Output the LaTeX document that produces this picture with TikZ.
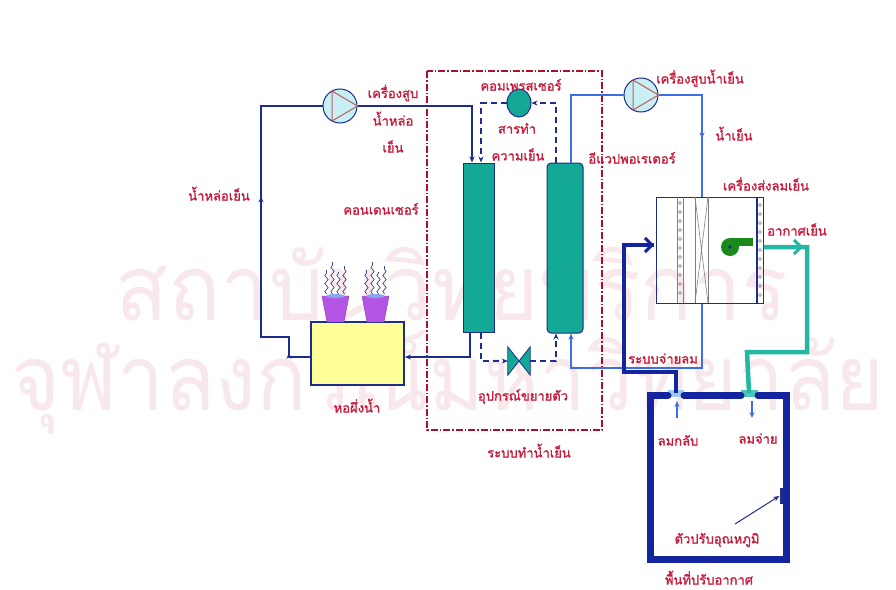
\documentclass[tikz,border=0pt]{standalone}
\usepackage{fontspec}
\newfontfamily\thai[Script=Thai,AutoFakeBold=1.6]{Loma}
\newfontfamily\thaiwm[Script=Thai,AutoFakeBold=3]{Loma}
\usetikzlibrary{arrows.meta,shapes.geometric,decorations.markings,decorations.pathmorphing}
\definecolor{navy}{HTML}{1E2C8E}
\definecolor{deepnavy}{HTML}{14249E}
\definecolor{chill}{HTML}{3C6EE6}
\definecolor{lbl}{HTML}{C81E3E}
\definecolor{sysred}{HTML}{A8102C}
\definecolor{teal}{HTML}{14A896}
\definecolor{airteal}{HTML}{22B8A2}
\definecolor{pumpfill}{HTML}{C8F0F4}
\definecolor{pumptri}{HTML}{C05A5A}
\definecolor{potfill}{HTML}{B555E6}
\definecolor{towerfill}{HTML}{FFFF99}
\definecolor{fangreen}{HTML}{1A8A1A}
\definecolor{wmark}{HTML}{F9E8EB}
\tikzset{
  tip/.style={-{Stealth[length=6pt,width=5pt]}},
  arrowat/.style={postaction={decorate,decoration={markings,
      mark=at position #1 with {\arrow{Stealth[length=6pt,width=5pt]}}}}},
  wline/.style={draw=navy,line width=1.8pt},
  cwline/.style={draw=chill,line width=1.6pt},
  refline/.style={draw=navy,line width=1.8pt,dash pattern=on 6pt off 4pt},
  airsup/.style={draw=airteal,line width=4.5pt},
  airret/.style={draw=deepnavy,line width=3.5pt},
  lab/.style={font=\thai\bfseries\fontsize{13}{15}\selectfont,text=lbl,anchor=base,inner sep=0pt},
  wm/.style={font=\thaiwm\fontsize{96}{100}\selectfont,text=wmark,anchor=base,inner sep=0pt},
  pumpc/.style={circle,draw=navy,line width=1pt,fill=pumpfill,minimum size=34pt,inner sep=0pt},
  vessel/.style={draw=navy,line width=1pt,fill=teal,inner sep=0pt},
  room/.style={draw=deepnavy,line width=7pt},
}
\begin{document}
\begin{tikzpicture}[x=1pt,y=-1pt]
\useasboundingbox (0,0) rectangle (896,589);
\fill[white] (0,0) rectangle (896,589);

% faint library watermark
\node[wm] (wmA) at (452,320) {\scalebox{0.9}[0.95]{สถาบันวิทยบริการ}};
\node[wm] (wmB) at (448,410) {\scalebox{0.87}[0.95]{จุฬาลงกรณ์มหาวิทยาลัย}};

% refrigeration system boundary
\draw[sysred,line width=1.5pt,dash pattern=on 7pt off 2pt on 1.5pt off 2pt] (427,71) rectangle (602,430);

% equipment
\node[vessel,minimum width=31pt,minimum height=169pt] (cond) at (478.5,247.5) {};
\node[vessel,rounded corners=4pt,minimum width=36pt,minimum height=170pt] (evap) at (565,248) {};
\node[ellipse,vessel,minimum width=24pt,minimum height=28pt] (comp) at (519,103) {};
\node[inner sep=0pt,minimum width=22pt,minimum height=28pt] (valve) at (519,361) {};
\filldraw[fill=teal,draw=navy,line width=0.8pt] (valve.north west) -- (valve.center) -- (valve.south west) -- cycle;
\filldraw[fill=teal,draw=navy,line width=0.8pt] (valve.north east) -- (valve.center) -- (valve.south east) -- cycle;

% cooling tower with its two fans and rising vapour
\node[draw=navy,line width=1.8pt,fill=towerfill,minimum width=93pt,minimum height=63pt,inner sep=0pt] (tower) at (357.5,353.5) {};
\foreach \c in {335.5,375.5}{
  \filldraw[fill=potfill,draw=potfill!70!black,line width=0.4pt] (\c-13.5,296) -- (\c+13.5,296) -- (\c+8.5,322) -- (\c-8.5,322) -- cycle;
  \fill[chill!60] (\c,296) ellipse (9pt and 2pt);
  \foreach \d/\h in {-9/24,-3/32,3/22,9/28}{
    \draw[navy!70!gray,line width=0.7pt,decorate,decoration={snake,amplitude=1.6pt,segment length=8pt}] (\c+\d,294) -- (\c+\d,294-\h);
  }
}

% pumps
\node[pumpc] (pumpA) at (340,106) {};
\node[pumpc] (pumpB) at (641,95) {};
\foreach \p in {pumpA,pumpB}{
  \draw[pumptri,line width=1pt] ([shift={(-8,-15)}]\p.center) -- ([shift={(-8,15)}]\p.center) -- (\p.east) -- cycle;
}

% air handling unit
\node[draw=navy,line width=1pt,minimum width=107pt,minimum height=106pt,inner sep=0pt] (ahu) at (709.5,250) {};
\draw[gray,line width=0.6pt] (677,197) -- (677,303) (683,197) -- (683,303);
\draw[gray,line width=0.6pt] (695,197) -- (695,303) (708,197) -- (708,303);
\draw[gray,line width=0.6pt] (695,197) -- (708,303) (708,197) -- (695,303);
\draw[navy,line width=1.6pt] (757,197) -- (757,303);
\foreach \y in {203,212,...,298}{
  \draw[gray,line width=0.5pt] (680,\y) circle (1.5pt);
  \draw[gray,line width=0.5pt] (760,\y+2) circle (1.5pt);
}
\fill[fangreen] (730,247) circle (9pt);
\fill[fangreen] (730,238) rectangle (753,246);
\fill[navy] (730,247) circle (1.8pt);

% conditioned space
\coordinate (retgr) at (676,393);
\coordinate (supgr) at (749,393);
\fill[pumpfill!70!chill] (668,390) rectangle (684,397);
\fill[airteal!80] (741,390) rectangle (758,397);
\draw[room,line cap=round] (668,395.5) -- (650.5,395.5) -- (650.5,559.5) -- (786.5,559.5) -- (786.5,395.5) -- (758,395.5);
\draw[room,line cap=round] (684,395.5) -- (741,395.5);
\node[fill=navy,minimum width=3pt,minimum height=16pt,inner sep=0pt] (tstat) at (781,496) {};
\draw[navy,line width=1pt,tip] (735,524) -- (tstat.west);
\draw[chill,line width=1.2pt,tip] (677,418) -- (677,401);
\draw[chill,line width=1.2pt,tip] (752,401) -- (752,418);

% condenser water loop
\draw[wline,tip] (pumpA.east) -| ([xshift=-6.5pt]cond.north);
\draw[wline,tip] ([xshift=-8.5pt]cond.south) |- ([yshift=-3.5pt]tower.east);
\draw[wline,arrowat=0.07,arrowat=0.58] ([yshift=-3.5pt]tower.west) -- (289,357) -- (289,337) -- (261,337) -- (261,106) -- (pumpA.west);

% refrigerant circuit
\draw[refline,tip] (comp.west) -| ([xshift=2.5pt]cond.north);
\draw[refline,tip] ([xshift=-9pt]evap.north) |- (comp.east);
\draw[refline,tip] ([xshift=2.5pt]cond.south) |- (valve.west);
\draw[refline,tip] (valve.east) -| ([xshift=-9pt]evap.south);

% chilled water loop
\draw[cwline] ([xshift=6pt]evap.north) |- (pumpB.west);
\draw[cwline,arrowat=0.6] (pumpB.east) -| ([xshift=-7.5pt]ahu.north);
\draw[cwline,tip] ([xshift=-7.5pt]ahu.south) |- (600,368) -| ([xshift=6pt]evap.south);

% supply and return air ducts
\draw[airsup] ([yshift=3pt]ahu.east) -- (807,247) -- (807,352) -- (747,352) -- (supgr);
\draw[airteal,line width=3pt,-{Straight Barb[length=7pt,width=14pt]}] (785,247) -- (803,247);
\draw[airret] (retgr) |- (624,372) |- ([xshift=-2pt,yshift=5pt]ahu.west);
\draw[deepnavy,line width=3pt,-{Straight Barb[length=7pt,width=14pt]}] (635,245) -- (654,245);

% labels
\node[lab] (tPumpA1) at (393,98) {เครื่องสูบ};
\node[lab] (tPumpA2) at (393,125.5) {น้ำหล่อ};
\node[lab] (tPumpA3) at (393,152.5) {เย็น};
\node[lab] (tCw) at (219,200.5) {น้ำหล่อเย็น};
\node[lab] (tCond) at (381,214.5) {คอนเดนเซอร์};
\node[lab] (tComp) at (521,90.5) {คอมเพรสเซอร์};
\node[lab] (tRef1) at (517,133.5) {สารทำ};
\node[lab] (tRef2) at (518,160.5) {ความเย็น};
\node[lab] (tEvap) at (632,163.5) {อีแวปพอเรเตอร์};
\node[lab] (tPumpB) at (700,83.5) {เครื่องสูบน้ำเย็น};
\node[lab] (tChw) at (734,140.5) {น้ำเย็น};
\node[lab] (tAhu) at (766,190.5) {เครื่องส่งลมเย็น};
\node[lab] (tSup) at (797,235.5) {อากาศเย็น};
\node[lab] (tDist) at (663,363.5) {ระบบจ่ายลม};
\node[lab] (tValve) at (523,400.5) {อุปกรณ์ขยายตัว};
\node[lab] (tSys) at (529,457.5) {ระบบทำน้ำเย็น};
\node[lab] (tTower) at (357,412.5) {หอผึ่งน้ำ};
\node[lab] (tRet) at (678,445.5) {ลมกลับ};
\node[lab] (tSupR) at (758,443.5) {ลมจ่าย};
\node[lab] (tStat) at (717,543.5) {ตัวปรับอุณหภูมิ};
\node[lab] (tRoom) at (709,584.5) {พื้นที่ปรับอากาศ};
\end{tikzpicture}
\end{document}
